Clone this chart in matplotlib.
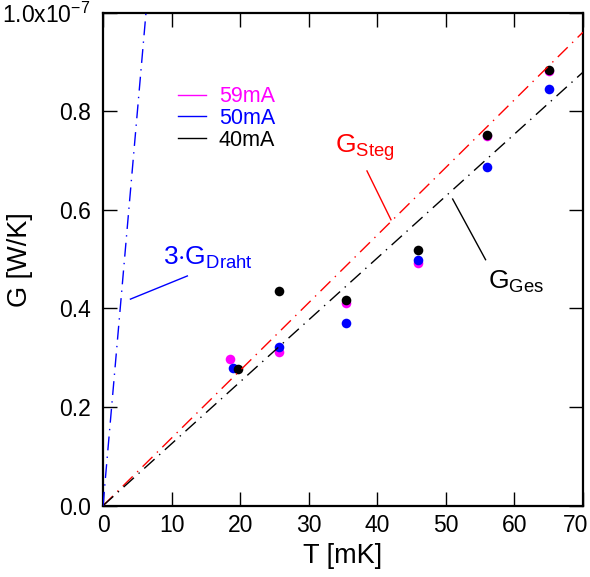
import matplotlib
matplotlib.use('Agg')
import matplotlib.pyplot as plt
import matplotlib.transforms as mtrans
from matplotlib.lines import Line2D
import numpy as np

plt.rcParams['font.family'] = ['Liberation Sans', 'DejaVu Sans']
plt.rcParams['mathtext.fontset'] = 'custom'
plt.rcParams['mathtext.rm'] = 'Liberation Sans'
plt.rcParams['mathtext.it'] = 'Liberation Sans'

# data, G in units of 1e-7 W/K
T_59 = [18.5, 25.7, 35.5, 45.9, 56.0, 65.0]
G_59 = [0.298, 0.312, 0.411, 0.493, 0.750, 0.882]
T_50 = [19.0, 25.7, 35.5, 45.9, 56.0, 65.0]
G_50 = [0.279, 0.322, 0.371, 0.498, 0.688, 0.845]
T_40 = [19.7, 25.7, 35.5, 45.9, 56.0, 65.0]
G_40 = [0.277, 0.436, 0.418, 0.519, 0.752, 0.884]

# fitted slopes (1e-7 W/K per mK)
slope_steg = 0.01372
slope_ges = 0.01256
slope_draht3 = 0.1595

series = [('59mA', T_59, G_59, '#ff00ff'),
          ('50mA', T_50, G_50, '#0000ff'),
          ('40mA', T_40, G_40, '#000000')]

fig = plt.figure(figsize=(5.9, 5.77), dpi=100)
ax = fig.add_axes([0.1746, 0.1236, 0.8134, 0.8544])

for lab, t, g, c in series:
    ax.scatter(t, g, s=48, color=c, zorder=2, linewidths=0)

dash = (0, (10, 4.5, 1, 4.5))
tt = np.array([0, 70])
ax.plot(tt, slope_steg * tt, color='red', lw=1, ls=dash, zorder=3)
ax.plot(tt, slope_ges * tt, color='black', lw=1, ls=dash, zorder=3)
ax.plot(tt, slope_draht3 * tt, color='blue', lw=1, ls=dash, zorder=3)

# labels with leader lines
ax.plot([38.5, 42.0], [0.679, 0.580], color='red', lw=1)
ax.text(38.2, 0.695, r'$\mathrm{G}_{\mathrm{Steg}}$', color='red', fontsize=19,
        ha='center', va='bottom')
ax.plot([51.0, 55.8], [0.622, 0.499], color='black', lw=1)
ax.text(56.1, 0.428, r'$\mathrm{G}_{\mathrm{Ges}}$', color='black', fontsize=19,
        ha='left', va='bottom')
ax.plot([4.0, 12.3], [0.419, 0.466], color='blue', lw=1)
ax.text(8.7, 0.477, r'$\mathrm{3{\cdot}G}_{\mathrm{Draht}}$', color='blue', fontsize=19,
        ha='left', va='bottom')

handles = [Line2D([], [], color=c, lw=1) for lab, t, g, c in series]
leg = ax.legend(handles, [s[0] for s in series], loc='upper left',
                bbox_to_anchor=(0.116, 0.89), frameon=False, fontsize=15.5,
                handlelength=1.3, handletextpad=0.6, labelspacing=0.03,
                labelcolor='linecolor')

ax.set_xlim(0, 70)
ax.set_ylim(0, 1.0)
ax.set_xticks(range(0, 71, 10))
ax.set_yticks([0, 0.2, 0.4, 0.6, 0.8, 1.0])
ax.set_yticklabels(['0.0', '0.2', '0.4', '0.6', '0.8', r'1.0x10$^{\mathrm{-7}}$'])
ax.tick_params(direction='in', length=10, width=1, labelsize=16.5,
               top=True, right=True)
ax.tick_params(axis='x', pad=6)
ax.tick_params(axis='y', pad=9)
for sp in ax.spines.values():
    sp.set_linewidth(1.6)

# last x label nudged left so it stays inside the figure
last = ax.xaxis.get_major_ticks()[-1].label1
last.set_transform(last.get_transform() +
                   mtrans.ScaledTranslation(-0.07, 0, fig.dpi_scale_trans))

ax.set_xlabel('T [mK]', fontsize=19.5, labelpad=4)
ax.set_ylabel('G [W/K]', fontsize=19.5)
ax.yaxis.set_label_coords(-0.145, 0.5)

fig.savefig('out.png', dpi=100)
